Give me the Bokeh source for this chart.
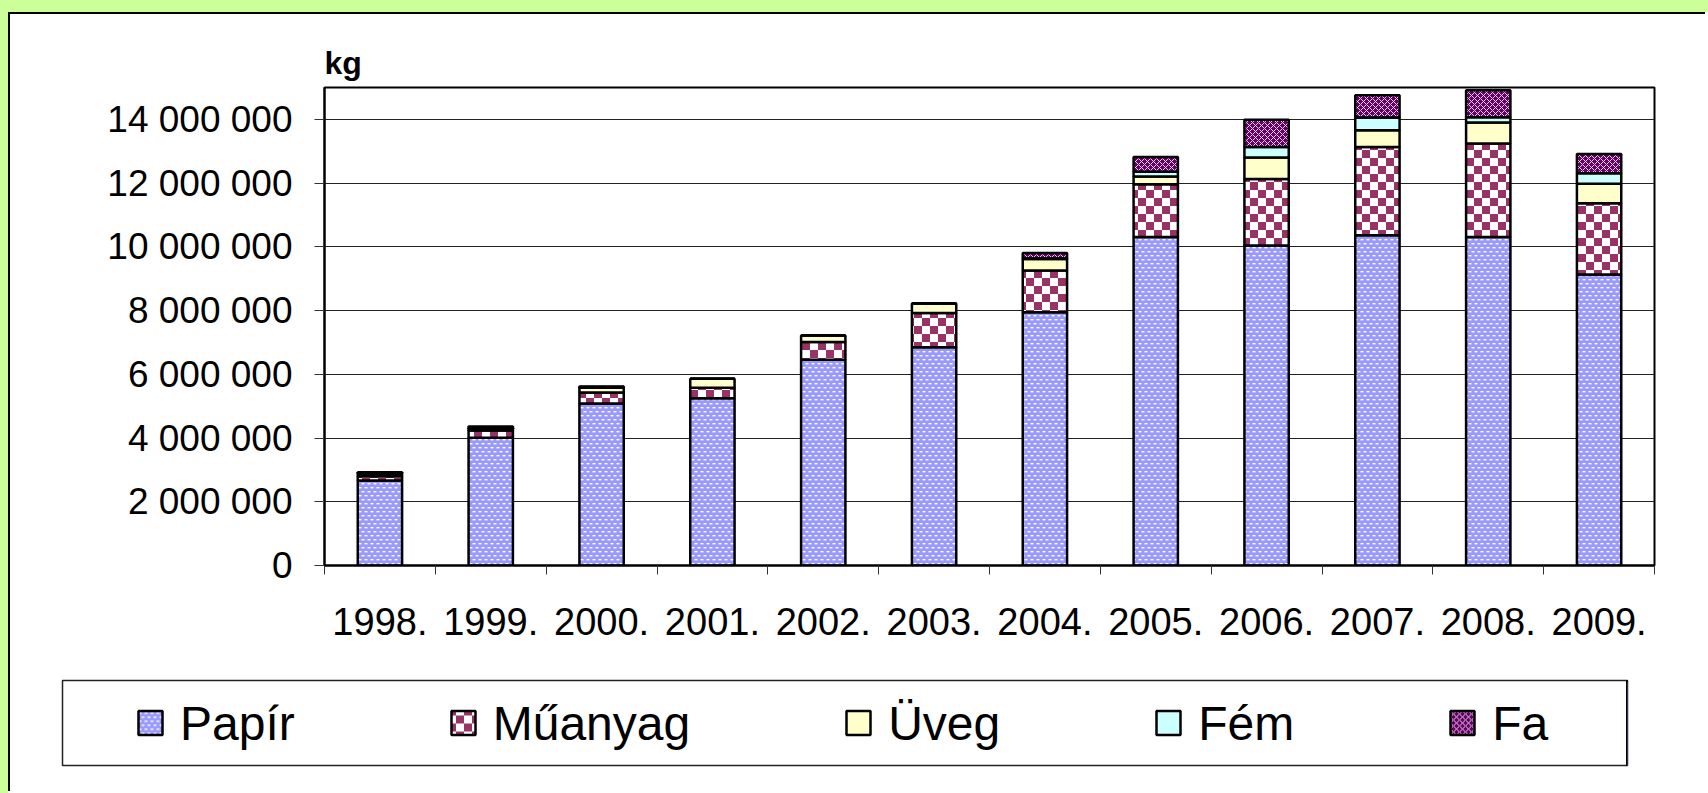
import base64
from bokeh.plotting import figure
from bokeh.models import (Range1d, FixedTicker, ColumnDataSource, Legend, LegendItem,
                          ImageURLTexture)
from bokeh.core.properties import value
from bokeh.transform import stack
from bokeh.embed import file_html
from bokeh.resources import INLINE

# ---------------- data ----------------
years = ["1998.", "1999.", "2000.", "2001.", "2002.", "2003.",
         "2004.", "2005.", "2006.", "2007.", "2008.", "2009."]
papir = [2670000, 4010000, 5080000, 5250000, 6460000, 6850000,
         7950000, 10310000, 10040000, 10360000, 10310000, 9130000]
muanyag = [130000, 230000, 350000, 330000, 550000, 1070000,
           1310000, 1650000, 2090000, 2770000, 2930000, 2240000]
uveg = [80000, 70000, 150000, 280000, 210000, 300000,
        360000, 250000, 670000, 530000, 660000, 610000]
fem = [0, 0, 20000, 0, 0, 0,
       20000, 150000, 330000, 400000, 170000, 330000]
fa = [50000, 50000, 20000, 0, 0, 0,
      170000, 460000, 860000, 700000, 840000, 600000]
series_names = ["Papír", "Műanyag", "Üveg", "Fém", "Fa"]
y_ticks = [0, 2000000, 4000000, 6000000, 8000000, 10000000, 12000000, 14000000]
y_tick_labels = ["0", "2 000 000", "4 000 000", "6 000 000", "8 000 000",
                 "10 000 000", "12 000 000", "14 000 000"]
y_unit = "kg"

FONT = "Liberation Sans"

n = len(years)
xpos = [i + 0.5 for i in range(n)]          # category centres on the numeric x scale
bounds = list(range(n + 1))                 # category boundaries (tick marks)
cols = ["papir", "muanyag", "uveg", "fem", "fa"]
src = ColumnDataSource(dict(x=xpos, year=years, papir=papir, muanyag=muanyag,
                            uveg=uveg, fem=fem, fa=fa))


def svg_texture(svg):
    return ImageURLTexture(url="data:image/svg+xml;base64," + base64.b64encode(svg.encode()).decode(),
                           repetition="repeat")


dash_tex = svg_texture("<svg xmlns='http://www.w3.org/2000/svg' width='6' height='8'>"
                       "<rect width='6' height='8' fill='#9999FF'/>"
                       "<rect x='0.5' y='1' width='3' height='1.4' fill='white'/>"
                       "<rect x='3.5' y='5' width='3' height='1.4' fill='white'/>"
                       "<rect x='-2.5' y='5' width='3' height='1.4' fill='white'/></svg>")
checker_tex = svg_texture("<svg xmlns='http://www.w3.org/2000/svg' width='16' height='16'>"
                          "<rect width='16' height='16' fill='white'/>"
                          "<rect width='8' height='8' fill='#993366'/>"
                          "<rect x='8' y='8' width='8' height='8' fill='#993366'/></svg>")

styles = [
    dict(fill_color="#9999FF", hatch_pattern=value("dashes"), hatch_extra={"dashes": dash_tex}),
    dict(fill_color="white", hatch_pattern=value("checker"), hatch_extra={"checker": checker_tex}),
    dict(fill_color="#FFFFCC"),
    dict(fill_color="#CCFFFF"),
    dict(fill_color="#660066", hatch_pattern="diagonal_cross", hatch_color="white",
         hatch_scale=6, hatch_weight=1, hatch_alpha=0.8),
]


def add_bars(fig):
    rs = []
    for i, c in enumerate(cols):
        bottom = stack(*cols[:i]) if i > 0 else 0
        rs.append(fig.vbar(x="x", width=0.40, bottom=bottom, top=stack(*cols[:i + 1]), source=src,
                           line_color="black", line_width=2.5, **styles[i]))
    return rs


# ---------------- main chart ----------------
p = figure(width=1697, height=640, x_range=Range1d(0, n),
           y_range=Range1d(0, 15000000),
           output_backend="svg", toolbar_location=None,
           min_border_left=314, min_border_right=53, min_border_top=73, min_border_bottom=89,
           background_fill_color="white", border_fill_color="white",
           styles={"border-left": "2px solid black", "border-top": "2px solid black"})
p.outline_line_color = "black"
p.outline_line_width = 2
p.xgrid.grid_line_color = None

p.title.text = y_unit
p.title.align = "left"
p.title.text_font = FONT
p.title.text_font_size = "32px"
p.title.text_font_style = "bold"
p.title.text_color = "black"
p.title.standoff = 13

# y axis
p.yaxis.ticker = FixedTicker(ticks=y_ticks)
p.yaxis.major_label_overrides = {t: l for t, l in zip(y_ticks, y_tick_labels)}
p.yaxis.major_label_text_font = FONT
p.yaxis.major_label_text_font_size = "37px"
p.yaxis.major_label_text_color = "black"
p.yaxis.major_tick_out = 10
p.yaxis.major_tick_in = 0
p.yaxis.major_tick_line_color = "#333333"
p.yaxis.minor_tick_line_color = None
p.yaxis.axis_line_color = "black"
p.yaxis.axis_line_width = 2
p.yaxis.major_label_standoff = 22
p.ygrid.grid_line_color = "#222222"
p.ygrid.grid_line_width = 1

# x axis: labels at category centres, tick marks at category boundaries
p.xaxis.ticker = FixedTicker(ticks=xpos, minor_ticks=bounds)
p.xaxis.major_label_overrides = {x: y for x, y in zip(xpos, years)}
p.xaxis.major_tick_line_color = None
p.xaxis.major_tick_out = 0
p.xaxis.major_tick_in = 0
p.xaxis.minor_tick_out = 9
p.xaxis.minor_tick_in = 0
p.xaxis.minor_tick_line_color = "#333333"
p.xaxis.axis_line_color = "black"
p.xaxis.axis_line_width = 2
p.xaxis.major_label_standoff = 33
p.xaxis.major_label_text_font = FONT
p.xaxis.major_label_text_font_size = "38px"
p.xaxis.major_label_text_color = "black"

add_bars(p)

# ---------------- legend panel (its frame is the legend box) ----------------
p2 = figure(width=1697, height=139, x_range=Range1d(-3, -2), y_range=Range1d(0, 1),
            x_axis_location=None, y_axis_location=None,
            output_backend="svg", toolbar_location=None,
            min_border_left=52, min_border_right=80, min_border_top=28, min_border_bottom=26,
            background_fill_color="white", border_fill_color="white",
            styles={"border-left": "2px solid black"})
p2.outline_line_color = "#222222"
p2.outline_line_width = 1.5
p2.grid.visible = False

legend_renderers = add_bars(p2)   # same series; outside this panel's visible range
legend = Legend(items=[LegendItem(label=s, renderers=[r]) for s, r in zip(series_names, legend_renderers)],
                orientation="horizontal", location="left", spacing=153, padding=0, margin=73,
                glyph_width=30, glyph_height=30, label_standoff=15,
                label_text_font=FONT, label_text_font_size="48px", label_text_color="black",
                border_line_color=None, background_fill_alpha=0)
p2.add_layout(legend)

html = file_html([p, p2], INLINE, title="chart")
css = ("<style>html { margin: 0 !important; background: white !important; }"
       " body { margin: 0 !important; padding: 0 !important; background: white !important;"
       " border-top: 12px solid #CCFF99; border-left: 8px solid #CCFF99; box-sizing: border-box;"
       " display: flex !important; flex-direction: column !important; align-items: flex-start !important; }"
       "</style>")
html = html.replace("</head>", css + "</head>", 1)
open("out.html", "w").write(html)
